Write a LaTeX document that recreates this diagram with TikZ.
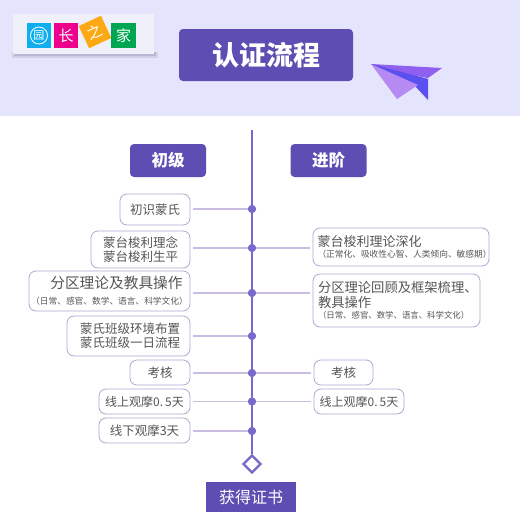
\documentclass[tikz,border=0pt]{standalone}
\usepackage{fontspec}
\setmainfont{Noto Sans CJK SC}
\usetikzlibrary{shapes.geometric}
\definecolor{band}{HTML}{E4E4FC}
\definecolor{deep}{HTML}{5E4DB2}
\definecolor{spine}{HTML}{7A68CC}
\definecolor{conn}{HTML}{C9BEE2}
\definecolor{edge}{HTML}{B3A6D0}
\definecolor{ink}{HTML}{555555}
\definecolor{logoshade}{HTML}{B8B8D4}
\definecolor{logoshadelight}{HTML}{D0D0E8}
\definecolor{logopanel}{HTML}{F0F0FB}
\definecolor{tileblue}{HTML}{0FAEEF}
\definecolor{tilepink}{HTML}{EC008C}
\definecolor{tileorange}{HTML}{FDA914}
\definecolor{tilegreen}{HTML}{00A651}
\definecolor{planea}{HTML}{8F5FF0}
\definecolor{planeb}{HTML}{5A4FF0}
\definecolor{planec}{HTML}{B58AF2}
\definecolor{planed}{HTML}{6A4FE0}
\tikzset{
  px/.style={x=1pt,y=-1pt},
  head/.style={fill=deep,rounded corners=4pt,text=white,font=\fontsize{16.5}{18}\selectfont\bfseries,inner sep=0pt,minimum height=33pt,minimum width=76pt},
  stepbox/.style={draw=edge,line width=0.8pt,fill=white,rounded corners=7pt,text=ink,inner sep=0pt,font=\fontsize{12.5}{15}\selectfont,align=center},
  dot/.style={circle,fill=spine,inner sep=0pt,minimum size=8pt},
  link/.style={draw=conn,line width=1.3pt},
  tile/.style={minimum size=24.5pt,inner sep=0pt,text=white,font=\fontsize{15}{15}\selectfont},
}
\newcommand{\boxat}[6]{% name, x1, y1, x2, y2, text
  \pgfmathsetmacro{\boxcx}{(#2+#4)/2}\pgfmathsetmacro{\boxcy}{(#3+#5)/2}
  \pgfmathsetmacro{\boxw}{#4-#2}\pgfmathsetmacro{\boxh}{#5-#3}
  \node[stepbox,minimum width=\boxw pt,minimum height=\boxh pt] (#1) at (\boxcx,\boxcy) {#6};}
\begin{document}
\begin{tikzpicture}[px]
\useasboundingbox (0,0) rectangle (520,520);
\fill[white] (0,0) rectangle (520,520);
\fill[band] (0,0) rectangle (520,116);
% logo
\fill[logoshadelight] (12,52) rectangle (158,58);
\fill[logoshade] (14,52) rectangle (156,56);
\fill[logopanel] (13,14) rectangle (154,54);
\node[tile,fill=tileblue] (t1) at (39,35.5) {};
\draw[white,line width=0.8pt] (t1) circle (8.5pt);
\node[text=white,font=\fontsize{11}{11}\selectfont,inner sep=0pt] at (t1) {园};
\node[tile,fill=tilepink] (t2) at (66,35.5) {长};
\node[tile,fill=tileorange,rotate=25] (t3) at (95,32) {之};
\node[tile,fill=tilegreen] (t4) at (123.5,35.5) {家};
% title
\node[fill=deep,rounded corners=4pt,minimum width=174pt,minimum height=52pt,inner sep=0pt,text=white,font=\fontsize{27}{30}\selectfont\bfseries] (title) at (266,55) {认证流程};
% plane
\fill[planea] (371,64) -- (442,68) -- (428,78) -- (395,72) -- cycle;
\fill[planeb] (371,64) -- (428,79) -- (428,100) -- (415,86) -- cycle;
\fill[planec] (371,64) -- (418,85) -- (397,99) -- cycle;
\fill[planed] (371,64) -- (428,79) -- (395,71) -- cycle;
% headers
\node[head] (h1) at (168,160.5) {初级};
\node[head] (h2) at (328.5,160.5) {进阶};
% spine nodes
\coordinate (top) at (252,130);
\node[dot] (d1) at (252,209) {};
\node[dot] (d2) at (252,248) {};
\node[dot] (d3) at (252,293) {};
\node[dot] (d4) at (252,336) {};
\node[dot] (d5) at (252,373) {};
\node[dot] (d6) at (252,401.5) {};
\node[dot] (d7) at (252,431) {};
\node[diamond,draw=spine,line width=2.2pt,fill=white,minimum size=18pt,inner sep=0pt] (end) at (252,464) {};
\draw[spine,line width=1.3pt] (top) -- (end.north);
\foreach \n in {d1,d2,d3,d4,d5,d6,d7} \node[dot] at (\n) {};
% left boxes
\boxat{a1}{120}{194}{190}{225}{初识蒙氏}
\boxat{a2}{91}{231}{190}{268}{蒙台梭利理念\\[-1pt]蒙台梭利生平}
\boxat{a3}{29}{271}{190}{311}{{\fontsize{14.7}{16}\selectfont\hspace*{14pt}分区理论及教具操作}\\[1pt]{\fontsize{8.7}{10}\selectfont（日常、感官、数学、语言、科学文化）}}
\boxat{a4}{67}{316}{190}{356}{\hspace*{3pt}蒙氏班级环境布置\\[-1pt]\hspace*{3pt}蒙氏班级一日流程}
\boxat{a5}{130}{360}{190}{385}{考核}
\boxat{a6}{99}{389}{190}{414}{\fontsize{12}{14}\selectfont 线上观摩0.\,5天}
\boxat{a7}{99}{418}{190}{443}{线下观摩3天}
% right boxes
\boxat{b2}{313}{228}{489}{266}{\hspace*{3pt}\parbox{170pt}{\raggedright\fontsize{13}{15}\selectfont 蒙台梭利理论深化\\[1pt]\fontsize{8.7}{10}\selectfont （正常化、吸收性心智、人类倾向、敏感期）}}
\boxat{b3}{313}{274}{480}{327}{\hspace*{3pt}\parbox{160pt}{\raggedright\fontsize{13.3}{15}\selectfont 分区理论回顾及框架梳理、\\教具操作\\[1pt]\fontsize{8.4}{10}\selectfont （日常、感官、数学、语言、科学文化）}}
\boxat{b5}{314}{360}{373}{385}{考核}
\boxat{b6}{314}{389}{404}{414}{\fontsize{12}{14}\selectfont 线上观摩0.\,5天}
% connectors
\foreach \a/\d in {a1/d1,a2/d2,a3/d3,a4/d4,a5/d5,a6/d6,a7/d7}
  \draw[link,shorten <=3pt] (\a.east |- \d) -- (\d.west);
\foreach \b/\d in {b2/d2,b3/d3,b5/d5,b6/d6}
  \draw[link,shorten <=3pt] (\b.west |- \d) -- (\d.east);
% certificate
\node[fill=deep,text=white,minimum width=90pt,minimum height=30pt,inner sep=0pt,font=\fontsize{16}{18}\selectfont] (cert) at (251,497) {获得证书};
\end{tikzpicture}
\end{document}
